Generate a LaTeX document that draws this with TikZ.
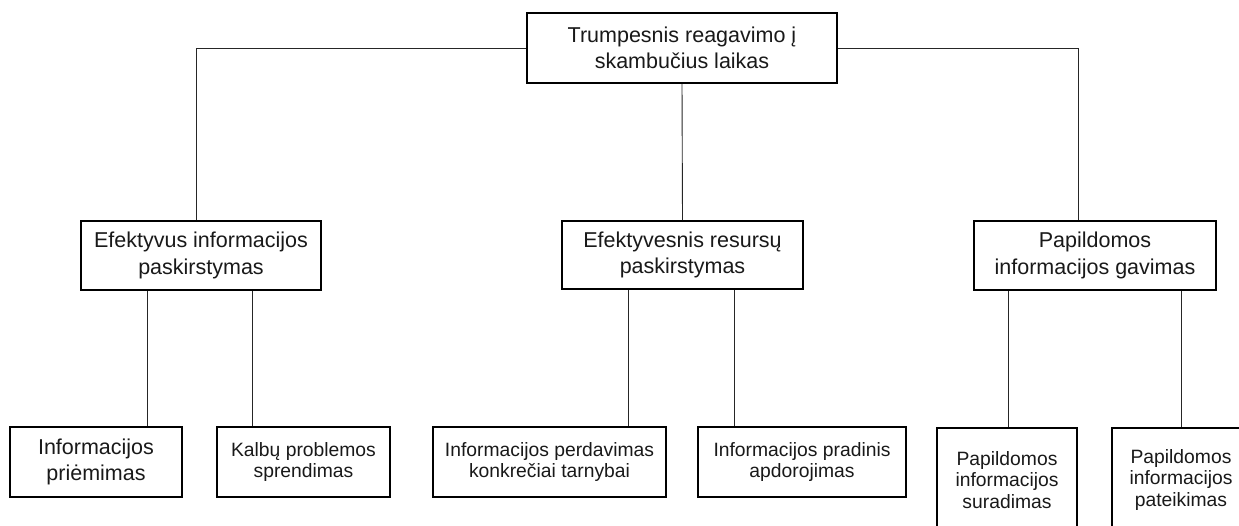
\documentclass[tikz,border=0pt]{standalone}
\usepackage{fontspec}
\setmainfont{Liberation Sans}
\usetikzlibrary{calc}
\begin{document}
\begin{tikzpicture}[x=1pt,y=-1pt,
  box/.style={draw=black, line width=1.7pt, fill=white, inner sep=0pt,
    align=center, text=black!90},
  bigtxt/.style={font=\fontsize{21.5}{26.5}\selectfont},
  smalltxt/.style={font=\fontsize{19.3}{21.5}\selectfont},
  link/.style={draw=black!85, line width=0.9pt}]
\useasboundingbox (0,0) rectangle (1239,526);
\clip (0,0) rectangle (1239,526);

% root
\node[box, bigtxt, minimum width=310pt, minimum height=70pt] (top) at (682,48)
  {Trumpesnis reagavimo į\\skambučius laikas};

% second level
\node[box, bigtxt, minimum width=240pt, minimum height=69pt] (L) at (201,255.5)
  {Efektyvus informacijos\\paskirstymas};
\node[box, bigtxt, minimum width=241pt, minimum height=68pt] (M) at (682.5,255)
  {Efektyvesnis resursų\\paskirstymas};
\node[box, bigtxt, minimum width=242pt, minimum height=69pt] (R) at (1095,255.5)
  {Papildomos\\informacijos gavimas};

% leaves
\node[box, bigtxt, minimum width=172pt, minimum height=70pt] (c1) at (96,462)
  {Informacijos\\priėmimas};
\node[box, smalltxt, minimum width=173pt, minimum height=70pt] (c2) at (303.5,462)
  {Kalbų problemos\\sprendimas};
\node[box, smalltxt, minimum width=233pt, minimum height=70pt] (c3) at (549.5,462)
  {Informacijos perdavimas\\konkrečiai tarnybai};
\node[box, smalltxt, minimum width=208pt, minimum height=70pt] (c4) at (802,462)
  {Informacijos pradinis\\apdorojimas};
\node[box, smalltxt, minimum width=140pt, minimum height=104pt] (c5) at (1007,480)
  {Papildomos\\informacijos\\suradimas};
\node[box, smalltxt, minimum width=138pt, minimum height=104pt] (c6) at (1181,480)
  {Papildomos\\informacijos\\pateikimas};

% attachment points on the lower edges of the second level
\coordinate (Lr) at ($(L.north west)!0.48!(L.north east)$);
\coordinate (Rr) at ($(R.north west)!0.43!(R.north east)$);
\coordinate (L1) at ($(L.south west)!0.279!(L.south east)$);
\coordinate (L2) at ($(L.south west)!0.7125!(L.south east)$);
\coordinate (M1) at ($(M.south west)!0.278!(M.south east)$);
\coordinate (M2) at ($(M.south west)!0.714!(M.south east)$);
\coordinate (R1) at ($(R.south west)!0.145!(R.south east)$);
\coordinate (R2) at ($(R.south west)!0.855!(R.south east)$);

% connectors
\draw[link] (top.west) -| (Lr);
\draw[link] (top.east) -| (Rr);
\draw[link] (top.south) -- (M.north);
\draw[link] (L1) -- (L1 |- c1.north);
\draw[link] (L2) -- (L2 |- c2.north);
\draw[link] (M1) -- (M1 |- c3.north);
\draw[link] (M2) -- (M2 |- c4.north);
\draw[link] (R1) -- (R1 |- c5.north);
\draw[link] (R2) -- (R2 |- c6.north);
\end{tikzpicture}
\end{document}
